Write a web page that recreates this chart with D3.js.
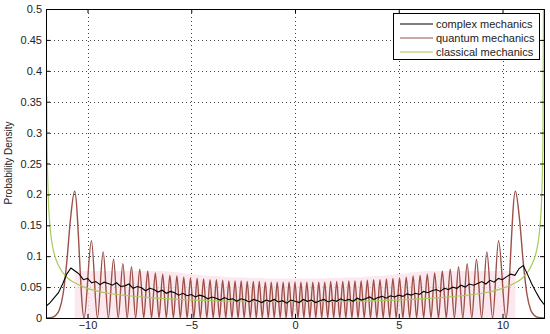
<!DOCTYPE html>
<html><head><meta charset="utf-8">
<script src="https://cdn.jsdelivr.net/npm/d3@7"></script>
<style>
html,body{margin:0;padding:0;background:#fff;}
svg{display:block;font-family:"Liberation Sans",Arial,sans-serif;}
</style></head>
<body><svg id="c" width="550" height="334"></svg>
<script>
// ---- data ----
const xTicks = [-10, -5, 0, 5, 10];
const yTicks = [0, 0.05, 0.1, 0.15, 0.2, 0.25, 0.3, 0.35, 0.4, 0.45, 0.5];
const yTickLabels = ["0","0.05","0.1","0.15","0.2","0.25","0.3","0.35","0.4","0.45","0.5"];
const seriesNames = ["complex mechanics", "quantum mechanics", "classical mechanics"];

// quantum mechanics: peak positions / heights, node positions (zeros), outer tails
const qPeakX = [-10.62,-9.81,-9.245,-8.745,-8.295,-7.88,-7.481,-7.099,-6.731,-6.375,-6.029,-5.692,-5.361,-5.037,-4.718,-4.405,-4.095,-3.789,-3.486,-3.187,-2.89,-2.595,-2.302,-2.01,-1.721,-1.432,-1.144,-0.858,-0.571,-0.286,0,
  0.286,0.571,0.858,1.144,1.432,1.721,2.01,2.302,2.595,2.89,3.187,3.486,3.789,4.095,4.405,4.718,5.037,5.361,5.692,6.029,6.375,6.731,7.099,7.481,7.88,8.295,8.745,9.245,9.81,10.62];
const qPeakY = [0.205,0.125,0.107,0.095,0.088,0.083,0.079,0.076,0.073,0.071,0.069,0.068,0.066,0.065,0.064,0.063,0.062,0.062,0.061,0.060,0.060,0.060,0.059,0.059,0.059,0.058,0.058,0.058,0.058,0.058,0.058,
  0.058,0.058,0.058,0.058,0.058,0.059,0.059,0.059,0.060,0.060,0.060,0.061,0.062,0.062,0.063,0.064,0.065,0.066,0.068,0.069,0.071,0.073,0.076,0.079,0.083,0.088,0.095,0.107,0.125,0.205];
const qNodeX = [-10.165,-9.523,-8.995,-8.52,-8.088,-7.681,-7.29,-6.915,-6.553,-6.202,-5.861,-5.527,-5.199,-4.878,-4.562,-4.25,-3.942,-3.638,-3.337,-3.039,-2.743,-2.449,-2.156,-1.866,-1.577,-1.288,-1.001,-0.715,-0.429,-0.143,
  0.143,0.429,0.715,1.001,1.288,1.577,1.866,2.156,2.449,2.743,3.039,3.337,3.638,3.942,4.25,4.562,4.878,5.199,5.527,5.861,6.202,6.553,6.915,7.29,7.681,8.088,8.52,8.995,9.523,10.165];
const qTailX = [-12,-11.71,-11.54,-11.36,-11.18,-11.0,-10.82, 10.82,11.0,11.18,11.36,11.54,11.71,12];
const qTailY = [0,0.001,0.004,0.013,0.038,0.09,0.16, 0.16,0.09,0.038,0.013,0.004,0.001,0];

// classical mechanics
const cX = [-11.967,-11.95,-11.9,-11.8,-11.7,-11.5,-11.3,-11,-10.5,-10,-9,-8,-7,-6,-4,-2,0,2,4,6,7,8,9,10,10.5,11,11.3,11.5,11.7,11.8,11.9,11.95,11.99];
const cY = [0.36,0.291,0.206,0.146,0.119,0.093,0.079,0.066,0.055,0.048,0.040,0.036,0.033,0.031,0.028,0.027,0.0265,0.027,0.028,0.031,0.033,0.036,0.040,0.048,0.055,0.066,0.079,0.093,0.119,0.146,0.206,0.291,0.65];

// complex mechanics (noisy trace)
const kX = [-12,-11.8,-11.6,-11.4,-11.2,-11,-10.8,-10.6,-10.4,-10.2,-10,-9.8,-9.6,-9.4,-9.2,-9,-8.8,-8.6,-8.4,-8.2,-8,-7.8,-7.6,-7.4,-7.2,-7,-6.8,-6.6,-6.4,-6.2,-6,-5.8,-5.6,-5.4,-5.2,-5,-4.8,-4.6,-4.4,-4.2,-4,-3.8,-3.6,-3.4,-3.2,-3,-2.8,-2.6,-2.4,-2.2,-2,-1.8,-1.6,-1.4,-1.2,-1,-0.8,-0.6,-0.4,-0.2,0,
  0.2,0.4,0.6,0.8,1,1.2,1.4,1.6,1.8,2,2.2,2.4,2.6,2.8,3,3.2,3.4,3.6,3.8,4,4.2,4.4,4.6,4.8,5,5.2,5.4,5.6,5.8,6,6.2,6.4,6.6,6.8,7,7.2,7.4,7.6,7.8,8,8.2,8.4,8.6,8.8,9,9.2,9.4,9.6,9.8,10,10.2,10.4,10.6,10.8,11,11.2,11.4,11.6,11.8,12];
const kY = [0.019,0.025,0.033,0.041,0.055,0.071,0.081,0.076,0.071,0.062,0.064,0.057,0.059,0.054,0.058,0.056,0.053,0.057,0.051,0.052,0.055,0.048,0.051,0.049,0.044,0.048,0.046,0.042,0.045,0.040,0.043,0.041,0.037,0.040,0.036,0.038,0.034,0.037,0.035,0.031,0.034,0.032,0.029,0.033,0.030,0.031,0.027,0.031,0.029,0.026,0.030,0.028,0.025,0.029,0.027,0.030,0.026,0.028,0.024,0.029,0.027,
  0.025,0.030,0.027,0.029,0.025,0.028,0.030,0.026,0.029,0.027,0.031,0.028,0.030,0.027,0.032,0.029,0.031,0.034,0.030,0.033,0.035,0.032,0.036,0.034,0.037,0.035,0.039,0.037,0.040,0.038,0.043,0.041,0.044,0.046,0.043,0.048,0.046,0.050,0.048,0.053,0.050,0.055,0.053,0.056,0.059,0.055,0.061,0.058,0.064,0.062,0.067,0.071,0.069,0.080,0.085,0.071,0.056,0.043,0.031,0.022];

// ---- drawing ----
const W = 550, H = 334;
const m = {left: 46, right: 6, top: 9, bottom: 16};
const iw = W - m.left - m.right, ih = H - m.top - m.bottom;
const svg = d3.select("#c");
const x = d3.scaleLinear().domain([-12, 12]).range([0, iw]);
const y = d3.scaleLinear().domain([0, 0.5]).range([ih, 0]);

svg.append("defs").append("clipPath").attr("id","clip")
  .append("rect").attr("width", iw).attr("height", ih);

const g = svg.append("g").attr("transform", `translate(${m.left},${m.top})`);

// grid
const grid = g.append("g").attr("stroke", "#444").attr("stroke-width", 1).attr("stroke-dasharray", "1,3");
grid.selectAll(".gx").data(xTicks).enter().append("line")
  .attr("x1", d => Math.round(x(d)) + 0.5).attr("x2", d => Math.round(x(d)) + 0.5)
  .attr("y1", 0).attr("y2", ih);
grid.selectAll(".gy").data(yTicks.slice(1, -1)).enter().append("line")
  .attr("y1", d => Math.round(y(d)) + 0.5).attr("y2", d => Math.round(y(d)) + 0.5)
  .attr("x1", 0).attr("x2", iw);

const plot = g.append("g").attr("clip-path", "url(#clip)");

// quantum points
const qPts = [];
qPeakX.forEach((v, i) => qPts.push([v, qPeakY[i]]));
qNodeX.forEach(v => qPts.push([v, 0]));
qTailX.forEach((v, i) => qPts.push([v, qTailY[i]]));
qPts.sort((a, b) => a[0] - b[0]);

// faint pink glow under the dense quantum band
const envPts = qPeakX.map((v, i) => [v, qPeakY[i]]);
plot.append("path").datum(envPts)
  .attr("fill", "#fbe4ec").attr("opacity", 0.8)
  .attr("d", d3.area().x(d => x(d[0])).y0(ih).y1(d => y(Math.min(d[1], 0.07) + 0.006)).curve(d3.curveMonotoneX));

plot.append("path").datum(qPts)
  .attr("fill", "none").attr("stroke", "#9c5048").attr("stroke-width", 1.4)
  .attr("d", d3.line().x(d => x(d[0])).y(d => y(d[1])).curve(d3.curveMonotoneX));

plot.append("path").datum(cX.map((v, i) => [v, cY[i]]))
  .attr("fill", "none").attr("stroke", "#a6cc5a").attr("stroke-width", 1.2)
  .attr("d", d3.line().x(d => x(d[0])).y(d => y(d[1])).curve(d3.curveMonotoneX));

plot.append("path").datum(kX.map((v, i) => [v, kY[i]]))
  .attr("fill", "none").attr("stroke", "#000").attr("stroke-width", 1.1)
  .attr("d", d3.line().x(d => x(d[0])).y(d => y(d[1])));

// axes (MATLAB style: ticks inward, box)
const fs = "11px";
const ax = g.append("g").attr("transform", `translate(0,${ih})`)
  .call(d3.axisBottom(x).tickValues(xTicks).tickSize(-4).tickPadding(3).tickFormat(d3.format("d")));
const ay = g.append("g")
  .call(d3.axisLeft(y).tickValues(yTicks).tickSize(-4).tickPadding(4).tickFormat((d, i) => yTickLabels[i]));
const at = g.append("g").call(d3.axisTop(x).tickValues(xTicks).tickSize(-4).tickFormat(""));
const ar = g.append("g").attr("transform", `translate(${iw},0)`)
  .call(d3.axisRight(y).tickValues(yTicks).tickSize(-4).tickFormat(""));
[ax, ay, at, ar].forEach(a => {
  a.selectAll("path").attr("stroke", "#000");
  a.selectAll("line").attr("stroke", "#000");
  a.selectAll("text").attr("font-size", fs).attr("fill", "#222")
    .attr("font-family", "'Liberation Sans',Arial,sans-serif");
});

// y label
svg.append("text").attr("transform", "translate(12,163) rotate(-90)")
  .attr("text-anchor", "middle").attr("font-size", "10px").attr("fill", "#222")
  .text("Probability Density");

// legend
const lg = svg.append("g");
lg.append("rect").attr("x", 393.5).attr("y", 13.5).attr("width", 146).attr("height", 46)
  .attr("fill", "#fff").attr("stroke", "#000");
const lColors = ["#000", "#9c5048", "#a6cc5a"];
seriesNames.forEach((n, i) => {
  const yy = 24 + i * 14;
  lg.append("line").attr("x1", 400).attr("x2", 433).attr("y1", yy).attr("y2", yy)
    .attr("stroke", lColors[i]).attr("stroke-width", 1.2);
  lg.append("text").attr("x", 436).attr("y", yy).attr("dy", "0.35em")
    .attr("font-size", "11px").attr("fill", "#222").text(n);
});
</script></body></html>
